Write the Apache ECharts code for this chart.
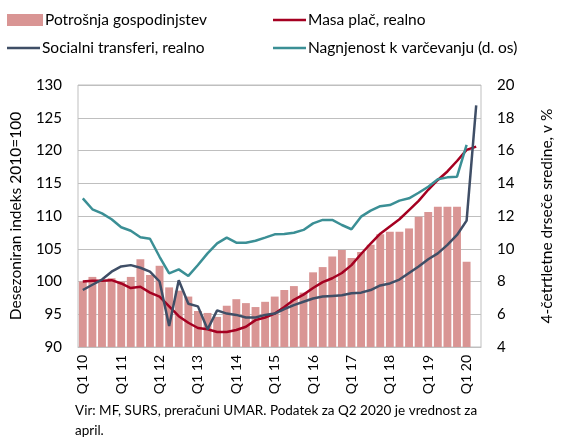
<!DOCTYPE html>
<html>
<head>
<meta charset="utf-8">
<script src="https://cdn.jsdelivr.net/npm/echarts@6/dist/echarts.min.js"></script>
<style>
  html, body { margin: 0; padding: 0; background: #fff; }
  #main { width: 563px; height: 443px; }
</style>
</head>
<body>
<div id="main"></div>
<script>
// četrtletja Q1 2010 - Q2 2020
const quarters = [
  "Q1 10", "Q2 10", "Q3 10", "Q4 10", "Q1 11", "Q2 11", "Q3 11", "Q4 11",
  "Q1 12", "Q2 12", "Q3 12", "Q4 12", "Q1 13", "Q2 13", "Q3 13", "Q4 13",
  "Q1 14", "Q2 14", "Q3 14", "Q4 14", "Q1 15", "Q2 15", "Q3 15", "Q4 15",
  "Q1 16", "Q2 16", "Q3 16", "Q4 16", "Q1 17", "Q2 17", "Q3 17", "Q4 17",
  "Q1 18", "Q2 18", "Q3 18", "Q4 18", "Q1 19", "Q2 19", "Q3 19", "Q4 19",
  "Q1 20", "Q2 20"
];

// Potrošnja gospodinjstev (stolpci, Q2 20 ni podatka)
const consumption = [
  100.0, 100.7, 100.0, 100.5, 100.0, 100.7, 103.4, 101.0, 102.4, 99.1,
  98.6, 97.7, 95.5, 95.2, 94.6, 96.3, 97.3, 96.7, 96.1, 96.9,
  97.7, 98.7, 99.3, 98.3, 101.4, 102.2, 103.8, 104.8, 103.6, 104.5,
  105.6, 107.2, 107.6, 107.6, 108.1, 109.9, 110.6, 111.4, 111.4, 111.4,
  103.0, null
];

// Masa plač, realno
const wages = [
  100.0, 100.1, 100.1, 100.2, 99.7, 99.0, 99.2, 98.3, 97.7, 96.2,
  94.7, 93.7, 92.9, 92.7, 92.3, 92.3, 92.6, 93.1, 94.1, 94.5,
  95.1, 96.1, 97.2, 98.0, 99.0, 99.9, 100.5, 101.3, 102.5, 104.2,
  105.8, 107.3, 108.4, 109.5, 110.9, 112.3, 114.0, 115.5, 116.8, 118.4,
  120.1, 120.6
];

// Socialni transferi, realno
const transfers = [
  98.7, 99.5, 100.3, 101.5, 102.3, 102.5, 102.1, 101.5, 100.0, 93.2,
  100.2, 96.6, 96.2, 92.7, 95.6, 95.1, 94.9, 94.5, 94.5, 94.9,
  95.1, 95.8, 96.4, 96.9, 97.4, 97.7, 97.8, 97.9, 98.2, 98.3,
  98.7, 99.4, 99.7, 100.3, 101.3, 102.3, 103.4, 104.3, 105.6, 107.1,
  109.3, 126.9
];

// Nagnjenost k varčevanju (desna os, %)
const saving = [
  13.08, 12.41, 12.16, 11.80, 11.31, 11.10, 10.70, 10.61, 9.51, 8.50,
  8.74, 8.34, 9.01, 9.72, 10.33, 10.68, 10.37, 10.37, 10.49, 10.68,
  10.88, 10.90, 10.98, 11.15, 11.55, 11.76, 11.76, 11.45, 11.19, 11.96,
  12.33, 12.60, 12.67, 12.94, 13.08, 13.42, 13.79, 14.24, 14.36, 14.40,
  16.34, null
];

const leftTicks = { min: 90, max: 130, interval: 5 };
const rightTicks = { min: 4, max: 20, interval: 2 };

const FONT = "Lato";
const TXT = "#000";

let myChart = echarts.init(document.getElementById("main"));

function legendItem(name, left, top, isBar) {
  return {
    data: [name],
    left: left,
    top: top,
    padding: 0,
    selectedMode: false,
    icon: "rect",
    itemWidth: isBar ? 36 : 33,
    itemHeight: isBar ? 12 : 2.5,
    itemGap: 0,
    textStyle: { fontFamily: FONT, fontSize: 15.5, color: TXT, padding: [0, 0, 0, -3] }
  };
}

let option = {
  animation: false,
  textStyle: { fontFamily: FONT },
  legend: [
    legendItem("Potrošnja gospodinjstev", 7, 12, true),
    legendItem("Masa plač, realno", 273, 12, false),
    legendItem("Socialni transferi, realno", 7, 40, false),
    legendItem("Nagnjenost k varčevanju (d. os)", 273, 40, false)
  ],
  grid: {
    left: 77,
    right: 70,
    top: 85,
    bottom: 96,
    show: true,
    borderColor: "#bfbfbf",
    borderWidth: 1
  },
  xAxis: {
    type: "category",
    data: quarters,
    boundaryGap: true,
    axisLine: { show: true, lineStyle: { color: "#bfbfbf" } },
    axisTick: { show: false },
    axisLabel: {
      interval: 3,
      rotate: 90,
      margin: 8,
      fontFamily: FONT,
      fontSize: 14,
      color: TXT
    }
  },
  yAxis: [
    {
      type: "value",
      min: leftTicks.min,
      max: leftTicks.max,
      interval: leftTicks.interval,
      name: "Desezoniran indeks 2010=100",
      nameLocation: "middle",
      nameRotate: 90,
      nameGap: 54,
      nameTextStyle: { fontFamily: FONT, fontSize: 15.5, color: TXT },
      axisLine: { show: false },
      axisTick: { show: false },
      axisLabel: { fontFamily: FONT, fontSize: 15, color: TXT, margin: 16 },
      splitLine: { show: true, lineStyle: { color: "#bfbfbf", width: 1 } }
    },
    {
      type: "value",
      min: rightTicks.min,
      max: rightTicks.max,
      interval: rightTicks.interval,
      position: "right",
      name: "4-četrtletne drseče sredine, v %",
      nameLocation: "middle",
      nameRotate: 90,
      nameGap: 58,
      nameTextStyle: { fontFamily: FONT, fontSize: 15.5, color: TXT },
      axisLine: { show: false },
      axisTick: { show: false },
      axisLabel: { fontFamily: FONT, fontSize: 15, color: TXT, margin: 16 },
      splitLine: { show: false }
    }
  ],
  series: [
    {
      name: "Potrošnja gospodinjstev",
      type: "bar",
      yAxisIndex: 0,
      data: consumption,
      barCategoryGap: "18%",
      itemStyle: { color: "#d99594" }
    },
    {
      name: "Masa plač, realno",
      type: "line",
      yAxisIndex: 0,
      data: wages,
      symbol: "none",
      lineStyle: { color: "#a50021", width: 2.5 },
      itemStyle: { color: "#a50021" }
    },
    {
      name: "Socialni transferi, realno",
      type: "line",
      yAxisIndex: 0,
      data: transfers,
      symbol: "none",
      lineStyle: { color: "#3f4e66", width: 2.5 },
      itemStyle: { color: "#3f4e66" }
    },
    {
      name: "Nagnjenost k varčevanju (d. os)",
      type: "line",
      yAxisIndex: 1,
      data: saving,
      symbol: "none",
      lineStyle: { color: "#3b8f95", width: 2.5 },
      itemStyle: { color: "#3b8f95" }
    }
  ],
  graphic: [
    {
      type: "text",
      left: 75,
      top: 401,
      style: {
        text: "Vir: MF, SURS, preračuni UMAR. Podatek za Q2 2020 je vrednost za\napril.",
        font: "13.5px " + FONT,
        fill: TXT,
        lineHeight: 20
      }
    }
  ]
};

option && myChart.setOption(option);
</script>
</body>
</html>
